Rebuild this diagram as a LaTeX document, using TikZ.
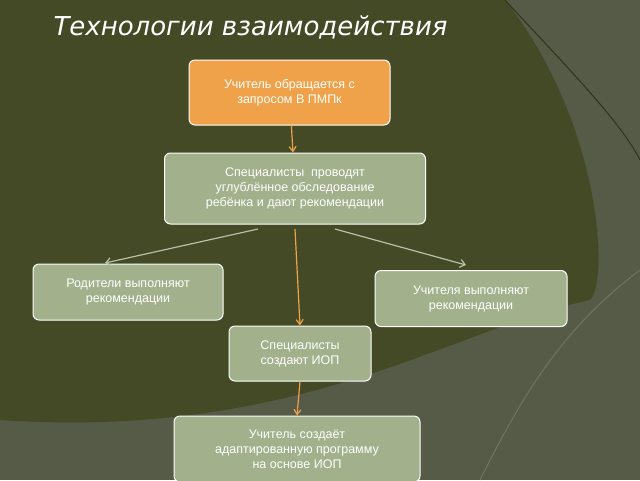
\documentclass[tikz,border=0pt]{standalone}
\usepackage{fontspec}
\setmainfont{Liberation Sans}
\newfontfamily\titlefont{DejaVu Sans}
\usetikzlibrary{arrows.meta}
\definecolor{olive}{HTML}{434A25}
\definecolor{greyzone}{HTML}{565B47}
\definecolor{boxgreen}{HTML}{A2B18C}
\definecolor{boxorange}{HTML}{F0A24A}
\definecolor{linkgrey}{HTML}{B8C0A8}
\tikzset{
  stagebox/.style={draw=white, line width=1pt, rounded corners=6pt, fill=boxgreen,
    text=white, align=center, font=\fontsize{12.5}{15}\selectfont, inner sep=2pt},
  orangelink/.style={draw=boxorange, line width=1.2pt, -{Straight Barb[length=5pt,width=7pt]}},
  greylink/.style={draw=linkgrey, line width=1.2pt, -{Straight Barb[length=5pt,width=8pt]}}
}
\begin{document}
\begin{tikzpicture}[x=1pt,y=-1pt]
	\useasboundingbox (0,0) rectangle (640,480);
	\fill[greyzone] (0,0) rectangle (640,480);
	\fill[olive] (0,0) -- (505,0) .. controls (600,120) and (610,280) .. (590,300)
		.. controls (450,330) and (300,440) .. (0,420) -- cycle;
	\draw[olive!70!black, line width=1pt] (505,0) .. controls (560,60) and (620,120) .. (640,160);
	\draw[greyzone!85!white, line width=1pt] (640,270) .. controls (560,330) and (520,400) .. (480,480);

	\node[text=white, anchor=west, font=\titlefont\itshape\fontsize{26}{30}\selectfont] (title) at (50,27) {Технологии взаимодействия};

	\node[stagebox, fill=boxorange, minimum width=201, minimum height=65] (request) at (289.5,92.5) {Учитель обращается с\\запросом В ПМПк};
	\node[stagebox, minimum width=261, minimum height=71] (exam) at (295,188.5) {Специалисты\ \ проводят\\углублённое обследование\\ребёнка и дают рекомендации};
	\node[stagebox, minimum width=190, minimum height=56] (parents) at (128,292) {Родители выполняют\\рекомендации};
	\node[stagebox, minimum width=192, minimum height=56] (teachers) at (471,298.5) {Учителя выполняют\\рекомендации};
	\node[stagebox, minimum width=142, minimum height=55] (iop) at (300,353.5) {Специалисты\\создают ИОП};
	\node[stagebox, minimum width=246, minimum height=66] (program) at (297,449) {Учитель создаёт\\адаптированную программу\\на основе ИОП};

	\coordinate (exleft) at (258,229);
	\coordinate (exright) at (335,229);
	\coordinate (exmid) at (295,229);
	\coordinate (parentsin) at (105,263);
	\coordinate (teachersin) at (466,265);

	\draw[orangelink] (request) -- (exam);
	\draw[orangelink] (exmid) -- (iop.north);
	\draw[orangelink] (iop.south) -- (program.north);
	\draw[greylink] (exleft) -- (parentsin);
	\draw[greylink] (exright) -- (teachersin);
\end{tikzpicture}
\end{document}
